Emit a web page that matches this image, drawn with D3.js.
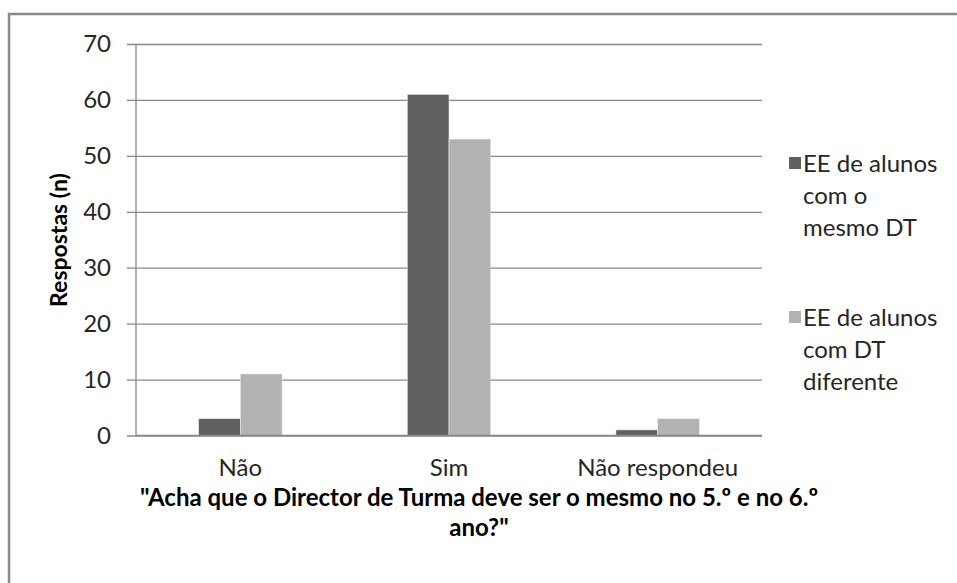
<!DOCTYPE html>
<html>
<head>
<meta charset="utf-8">
<script src="https://cdn.jsdelivr.net/npm/d3@7"></script>
<style>
  body { margin: 0; background: #fff; }
  svg text { font-family: Lato, "Open Sans", sans-serif; fill: #262626; }
</style>
</head>
<body>
<section></section>
<script>
// data
let categories = ['Não', 'Sim', 'Não respondeu'];
let seriesNames = ['EE de alunos com o mesmo DT', 'EE de alunos com DT diferente'];
let mesmoDT = [3, 61, 1];
let dtDiferente = [11, 53, 3];
let yTicks = [0, 10, 20, 30, 40, 50, 60, 70];
let legendLines = [['EE de alunos', 'com o', 'mesmo DT'], ['EE de alunos', 'com DT', 'diferente']];
let titleLines = ['"Acha que o Director de Turma deve ser o mesmo no 5.º e no 6.º', 'ano?"'];
let yTitle = 'Respostas (n)';

let width = 957;
let height = 583;
let plotLeft = 136, plotRight = 762, plotTop = 44, plotBottom = 435.5;
let colors = ['#606060', '#b2b2b2'];
let gridColor = '#888888';

let rows = categories.map((c, i) => ({cat: c, values: [mesmoDT[i], dtDiferente[i]]}));

var svg = d3.select('section')
  .append('svg')
  .attr('width', width)
  .attr('height', height);

// outer chart border (runs off the right and bottom edges)
svg.append('path')
  .attr('d', 'M9,' + height + 'V14H' + width)
  .attr('fill', 'none')
  .attr('stroke', gridColor)
  .attr('stroke-width', 2.5);

let x0 = d3.scaleBand().domain(categories).range([plotLeft, plotRight]);
let x1 = d3.scaleBand().domain(d3.range(seriesNames.length))
  .range([0, x0.bandwidth()]).paddingOuter(1.5);
let y = d3.scaleLinear().domain([0, 70]).range([plotBottom, plotTop]);

// grid + y ticks
let yAxis = d3.axisLeft(y).tickValues(yTicks).tickSize(-(plotRight - plotLeft)).tickPadding(0).tickFormat(d3.format('d'));
let gy = svg.append('g')
  .attr('transform', 'translate(' + plotLeft + ',0)')
  .call(yAxis);
gy.select('.domain').remove();
gy.selectAll('.tick line')
  .attr('x1', -9)
  .attr('stroke', gridColor)
  .attr('stroke-width', 1.3);
gy.selectAll('.tick text')
  .attr('x', -25)
  .attr('font-size', 24)
  .attr('fill', '#262626')
  .style('font-family', 'Lato, sans-serif');

// vertical axis line
svg.append('line')
  .attr('x1', plotLeft).attr('x2', plotLeft)
  .attr('y1', plotTop).attr('y2', plotBottom)
  .attr('stroke', gridColor)
  .attr('stroke-width', 1.3);

// bars
let groups = svg.selectAll('.grp')
  .data(rows)
  .enter()
  .append('g')
  .attr('class', 'grp')
  .attr('transform', d => 'translate(' + x0(d.cat) + ',0)');

groups.selectAll('rect')
  .data(d => d.values)
  .enter()
  .append('rect')
  .attr('x', (d, i) => x1(i))
  .attr('y', d => y(d))
  .attr('width', x1.bandwidth())
  .attr('height', d => y(0) - y(d))
  .attr('fill', (d, i) => colors[i])
  .attr('stroke', '#e8e8e8')
  .attr('stroke-width', 0.6);

// category labels
let xAxis = d3.axisBottom(x0).tickSize(0).tickPadding(0);
let gx = svg.append('g')
  .attr('transform', 'translate(0,' + plotBottom + ')')
  .call(xAxis);
gx.select('.domain')
  .attr('stroke', gridColor)
  .attr('stroke-width', 1.3)
  .attr('d', 'M' + plotLeft + ',0H' + plotRight);
gx.selectAll('.tick text')
  .attr('y', 40)
  .attr('dy', 0)
  .attr('font-size', 24)
  .attr('fill', '#262626')
  .style('font-family', 'Lato, sans-serif');

// x title
svg.selectAll('.xtitle')
  .data(titleLines)
  .enter()
  .append('text')
  .attr('class', 'xtitle')
  .attr('x', 479)
  .attr('y', (d, i) => 506 + i * 30)
  .attr('text-anchor', 'middle')
  .attr('font-size', 24)
  .attr('font-weight', 'bold')
  .style('fill', '#000')
  .text(d => d);

// y title
svg.append('text')
  .attr('transform', 'translate(67,240) rotate(-90)')
  .attr('text-anchor', 'middle')
  .attr('font-size', 23)
  .attr('font-weight', 'bold')
  .style('fill', '#000')
  .text(yTitle);

// legend
let legend = svg.selectAll('.leg')
  .data(seriesNames)
  .enter()
  .append('g')
  .attr('class', 'leg')
  .attr('transform', (d, i) => 'translate(789,' + (157 + i * 154) + ')');

legend.append('rect')
  .attr('width', 12)
  .attr('height', 12)
  .attr('fill', (d, i) => colors[i]);

legend.each(function(d, i) {
  d3.select(this).selectAll('text')
    .data(legendLines[i])
    .enter()
    .append('text')
    .attr('x', 14)
    .attr('y', (t, j) => 14.5 + j * 32)
    .attr('font-size', 24)
    .text(t => t);
});
</script>
</body>
</html>
